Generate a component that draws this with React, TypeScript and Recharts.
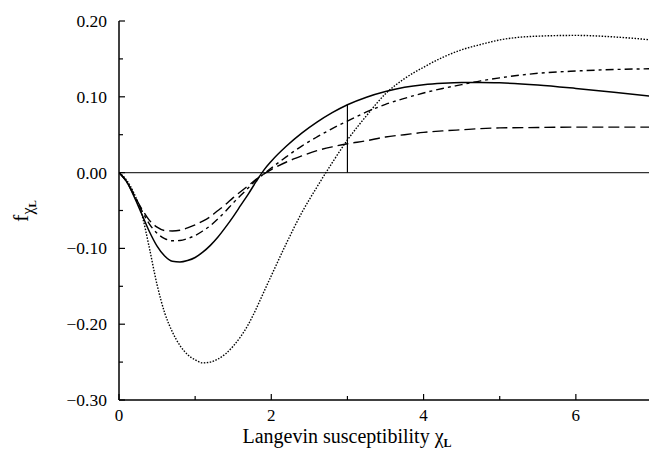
import { LineChart, Line, XAxis, YAxis, ReferenceLine } from "recharts";

const FONT = "Liberation Serif, Times New Roman, Times, serif";
const textStyle = { fontFamily: FONT };

// Langevin susceptibility (x) and the four curves
const chi = [
  0, 0.1, 0.2, 0.3, 0.4, 0.5, 0.6, 0.7, 0.8, 0.9, 1.0, 1.1, 1.2, 1.3, 1.4, 1.5, 1.6, 1.7, 1.8, 1.9,
  2.0, 2.2, 2.4, 2.6, 2.8, 3.0, 3.25, 3.5, 3.75, 4.0, 4.25, 4.5, 4.75, 5.0, 5.5, 6.0, 6.5, 7.0,
];
const solid = [
  0, -0.012, -0.032, -0.055, -0.078, -0.097, -0.11, -0.117, -0.118, -0.116, -0.112, -0.105, -0.096,
  -0.085, -0.072, -0.058, -0.043, -0.028, -0.012, 0.003, 0.015, 0.035, 0.052, 0.0665, 0.079, 0.0895,
  0.0995, 0.107, 0.1125, 0.116, 0.118, 0.119, 0.119, 0.1185, 0.1155, 0.111, 0.106, 0.1005,
];
const dashDot = [
  0, -0.012, -0.03, -0.05, -0.068, -0.08, -0.087, -0.09, -0.0895, -0.087, -0.083, -0.077, -0.07,
  -0.061, -0.051, -0.04, -0.03, -0.02, -0.01, -0.002, 0.006, 0.021, 0.035, 0.047, 0.058, 0.068,
  0.08, 0.09, 0.098, 0.105, 0.111, 0.116, 0.121, 0.125, 0.131, 0.134, 0.136, 0.137,
];
const longDash = [
  0, -0.012, -0.03, -0.048, -0.063, -0.072, -0.0765, -0.077, -0.076, -0.073, -0.069, -0.064, -0.058,
  -0.05, -0.042, -0.033, -0.025, -0.017, -0.009, -0.002, 0.004, 0.014, 0.022, 0.029, 0.034, 0.038,
  0.042, 0.047, 0.05, 0.053, 0.055, 0.0565, 0.058, 0.059, 0.0595, 0.06, 0.06, 0.06,
];
const dotted = [
  0, -0.01, -0.028, -0.055, -0.1, -0.148, -0.185, -0.21, -0.228, -0.24, -0.247, -0.251, -0.25,
  -0.246, -0.239, -0.229, -0.216, -0.2, -0.18, -0.158, -0.136, -0.093, -0.053, -0.019, 0.013, 0.043,
  0.075, 0.104, 0.124, 0.139, 0.152, 0.162, 0.169, 0.175, 0.18, 0.181, 0.179, 0.175,
];

const xTicks = [0, 1, 2, 3, 4, 5, 6, 7];
const yTicks = [-0.3, -0.25, -0.2, -0.15, -0.1, -0.05, 0, 0.05, 0.1, 0.15, 0.2];
const markerX = 3;

const rows = chi.map((x, i) => ({
  x,
  solid: solid[i],
  dashDot: dashDot[i],
  longDash: longDash[i],
  dotted: dotted[i],
}));
const markerY = solid[chi.indexOf(markerX)];

const isMajorX = (v: number) => v % 2 === 0;
const isMajorY = (v: number) => Math.abs(Math.round(v * 10) - v * 10) < 1e-6;
const fmtY = (v: number) => (v < 0 ? "\u2212" : "") + Math.abs(v).toFixed(2);

function BottomTick({ x, y, payload }: any) {
  const v = payload.value;
  const major = isMajorX(v);
  return (
    <g>
      <line x1={x} x2={x} y1={y} y2={y - (major ? 6 : 4)} stroke="#000" strokeWidth={1.2} />
      {major && (
        <text x={x} y={y + 21} textAnchor="middle" fontSize={17} style={textStyle} fill="#000">
          {v}
        </text>
      )}
    </g>
  );
}

function TopTick({ x, y, payload }: any) {
  const major = isMajorX(payload.value);
  return <line x1={x} x2={x} y1={y} y2={y + (major ? 6 : 4)} stroke="#000" strokeWidth={1.2} />;
}

function LeftTick({ x, y, payload }: any) {
  const v = payload.value;
  const major = isMajorY(v);
  return (
    <g>
      <line x1={x} x2={x + (major ? 6 : 4)} y1={y} y2={y} stroke="#000" strokeWidth={1.2} />
      {major && (
        <text x={x - 12} y={y + 6} textAnchor="end" fontSize={17.5} style={textStyle} fill="#000">
          {fmtY(v)}
        </text>
      )}
    </g>
  );
}

function RightTick({ x, y, payload }: any) {
  const major = isMajorY(payload.value);
  return <line x1={x} x2={x - (major ? 6 : 4)} y1={y} y2={y} stroke="#000" strokeWidth={1.2} />;
}

export default function App() {
  return (
    <div
      style={{
        position: "absolute",
        left: 0,
        top: 0,
        width: 649,
        height: 457,
        overflow: "hidden",
        background: "#fff",
      }}
    >
      <LineChart
        width={700}
        height={457}
        data={rows}
        margin={{ top: 21, right: 48, bottom: 27, left: 59 }}
        style={textStyle}
      >
        <XAxis
          dataKey="x"
          type="number"
          domain={[0, 7]}
          ticks={xTicks}
          tickSize={0}
          tickMargin={0}
          tickLine={false}
          tick={<BottomTick />}
          height={30}
          stroke="#000"
          strokeWidth={1.5}
          allowDataOverflow
          label={() => (
            <text x={347} y={443} textAnchor="middle" fontSize={20} style={textStyle} fill="#000">
              Langevin susceptibility χ
              <tspan fontSize={12} fontWeight="bold" dy={4}>
                L
              </tspan>
            </text>
          )}
        />
        <XAxis
          xAxisId="top"
          orientation="top"
          dataKey="x"
          type="number"
          domain={[0, 7]}
          ticks={xTicks}
          tickSize={0}
          tickMargin={0}
          tickLine={false}
          tick={<TopTick />}
          height={0}
          stroke="#000"
          strokeWidth={1.5}
        />
        <YAxis
          type="number"
          domain={[-0.3, 0.2]}
          ticks={yTicks}
          tickSize={0}
          tickMargin={0}
          tickLine={false}
          tick={<LeftTick />}
          width={60}
          stroke="#000"
          strokeWidth={1.5}
          allowDataOverflow
          label={() => (
            <text
              transform="translate(28,211) rotate(-90)"
              textAnchor="middle"
              fontSize={22}
              style={textStyle}
              fill="#000"
            >
              f
              <tspan fontSize={16} dy={5}>
                χ
              </tspan>
              <tspan fontSize={11} fontWeight="bold" dy={3}>
                L
              </tspan>
            </text>
          )}
        />
        <YAxis
          yAxisId="right"
          orientation="right"
          type="number"
          domain={[-0.3, 0.2]}
          ticks={yTicks}
          tickSize={0}
          tickMargin={0}
          tickLine={false}
          tick={<RightTick />}
          width={0}
          stroke="#000"
          strokeWidth={1.5}
        />
        <ReferenceLine y={0} stroke="#333" strokeWidth={1.2} />
        <ReferenceLine
          segment={[
            { x: markerX, y: 0 },
            { x: markerX, y: markerY },
          ]}
          stroke="#000"
          strokeWidth={1.2}
        />
        <Line
          type="monotone"
          dataKey="longDash"
          stroke="#000"
          strokeWidth={1.4}
          strokeDasharray="11 5"
          dot={false}
          activeDot={false}
          isAnimationActive={false}
        />
        <Line
          type="monotone"
          dataKey="dashDot"
          stroke="#000"
          strokeWidth={1.4}
          strokeDasharray="8 4 3 4"
          dot={false}
          activeDot={false}
          isAnimationActive={false}
        />
        <Line
          type="monotone"
          dataKey="dotted"
          stroke="#000"
          strokeWidth={1.4}
          strokeDasharray="1.5 1.5"
          dot={false}
          activeDot={false}
          isAnimationActive={false}
        />
        <Line
          type="monotone"
          dataKey="solid"
          stroke="#000"
          strokeWidth={1.5}
          dot={false}
          activeDot={false}
          isAnimationActive={false}
        />
      </LineChart>
    </div>
  );
}
